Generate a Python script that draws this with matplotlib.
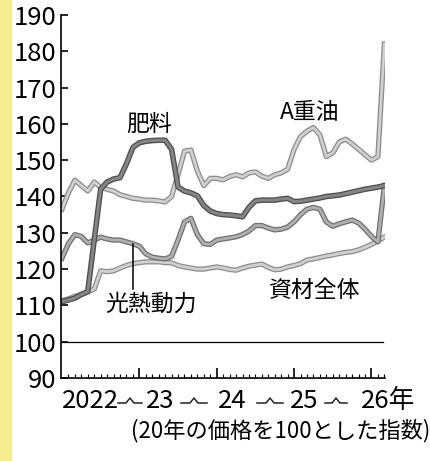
import numpy as np
import matplotlib
matplotlib.use("Agg")
import matplotlib.pyplot as plt
import matplotlib.patheffects as pe
from matplotlib.lines import Line2D
from matplotlib.patches import Rectangle

plt.rcParams['font.family'] = ['Noto Sans CJK JP', 'DejaVu Sans']

# monthly index, Jan 2022 = 0 ... Mar 2026 = 50
months = np.arange(51)

a_juyu = [136.5, 141, 144.5, 143, 141.5, 144, 142.5, 142, 141.5, 140.5, 140, 139.5,
          139.3, 139, 139, 138.8, 138.5, 140, 146, 152.5, 152.8, 147, 143, 145,
          145, 144.6, 145.5, 146, 145.4, 146.5, 146.8, 145.6, 145, 146, 146.5, 147.5,
          153, 156.5, 158, 159, 157, 151, 152, 155, 155.8, 154.5, 153, 151.5,
          150, 151, 182]
hiryo = [111, 111.5, 112, 113, 113.8, 128, 142, 144, 144.8, 145.2, 149, 153.5,
         154.8, 155.2, 155.4, 155.5, 155.5, 153, 142.6, 141.5, 141, 140.2, 137.5, 136,
         135.3, 135, 134.9, 134.7, 134.4, 137, 138.8, 139, 139, 139, 139.3, 139.5,
         138.6, 138.7, 139, 139.3, 139.6, 140, 140.2, 140.4, 140.8, 141.2, 141.6, 142,
         142.3, 142.6, 143]
kounetsu = [123, 127, 129.5, 129, 127.2, 128, 128.8, 128.3, 128, 128, 127.5, 127,
            126.3, 124.2, 123.3, 123, 122.8, 123.5, 128, 133, 134, 129.5, 127, 126.8,
            128, 128.3, 128.6, 128.9, 129.5, 130.5, 132, 132, 131.3, 130.8, 131, 131.6,
            133, 135, 136.5, 137, 136.5, 133, 131.8, 132.5, 133, 133.5, 132.7, 131,
            129, 127.5, 143]
shizai = [111.3, 111.8, 112.5, 113, 113.7, 114.5, 119.5, 119.3, 119.5, 120.3, 121, 121.5,
          121.8, 122, 122, 122, 121.8, 121.7, 121, 120.6, 120.3, 120, 120, 120.3,
          120.6, 120.3, 119.9, 119.7, 120.3, 120.8, 121.1, 121.4, 120.5, 119.8, 120, 120.6,
          121, 121.5, 122.5, 122.8, 123.2, 123.6, 123.9, 124.3, 124.6, 124.8, 125.3, 126,
          126.8, 127.8, 128.8]

yticks = [90, 100, 110, 120, 130, 140, 150, 160, 170, 180, 190]
year_labels = ['2022', '23', '24', '25', '26年']
note = '(20年の価格を100とした指数)'

W, H = 430, 461
fig = plt.figure(figsize=(W / 100, H / 100), dpi=100)
fig.patch.set_facecolor('white')
# yellow strip on the scan's left edge
fig.patches.append(Rectangle((0, 0), 12 / W, 1, transform=fig.transFigure,
                             facecolor='#f6ee8e', edgecolor='none', zorder=0))

ax = fig.add_axes([61 / W, (H - 378) / H, (385 - 61) / W, (378 - 15) / H])
ax.set_facecolor('none')

def draw(y, edge, fill, lw):
    ax.plot(months, y, color=fill, lw=lw, solid_joinstyle='round',
            path_effects=[pe.Stroke(linewidth=lw + 1.8, foreground=edge), pe.Normal()])

draw(shizai, '#8c8c8c', '#d0d0d0', 2.0)
draw(a_juyu, '#8c8c8c', '#d0d0d0', 2.0)
draw(kounetsu, '#6e6e6e', '#b0b0b0', 2.0)
draw(hiryo, '#4c4c4c', '#858585', 2.2)

ax.axhline(100, xmin=0, xmax=0.995, color='black', lw=0.9)

ax.set_xlim(-0.15, 50.1)
ax.set_ylim(90, 190)
for s in ['top', 'right']:
    ax.spines[s].set_visible(False)
for s in ['left', 'bottom']:
    ax.spines[s].set_linewidth(1.2)

ax.set_yticks(yticks)
ax.tick_params(axis='y', direction='in', length=5, width=1.2, labelsize=18.5, pad=3)
ax.set_xticks([12, 24, 36, 48])
ax.set_xticks(months[1:], minor=True)
ax.set_xticklabels([])
ax.tick_params(axis='x', which='major', direction='in', length=7, width=1.2)
ax.tick_params(axis='x', which='minor', direction='in', length=3, width=0.8)

# series labels
ax.text(13.5, 160, '肥料', fontsize=16.5, ha='center', va='center')
ax.text(38.4, 163.1, 'A重油', fontsize=16.5, ha='center', va='center')
ax.text(13.8, 110.4, '光熱動力', fontsize=16.5, ha='center', va='center')
ax.text(39.2, 114, '資材全体', fontsize=16.5, ha='center', va='center')
ax.plot([11, 11], [kounetsu[11], 114.6], color='black', lw=1.1)

# year labels along the bottom, joined by the little "break" marks
def fx(px):
    return px / W

def fy(py):
    return 1 - py / H

label_x = [90, 160, 232, 304, 388]
for lab, x in zip(year_labels, label_x):
    fig.text(fx(x), fy(401), lab, fontsize=18.5, ha='center', va='center')

seps = [(118, 142), (181, 207), (257, 283), (325, 347)]
for x0, x1 in seps:
    xm = (x0 + x1) / 2
    xs = [x0, xm - 4, xm, xm + 4, x1]
    ys = [403, 403, 398, 403, 403]
    fig.add_artist(Line2D([fx(v) for v in xs], [fy(v) for v in ys],
                          transform=fig.transFigure, color='#222222', lw=1.1))

fig.text(fx(281), fy(431), note, fontsize=16, ha='center', va='center')

fig.savefig('out.png', dpi=100)
